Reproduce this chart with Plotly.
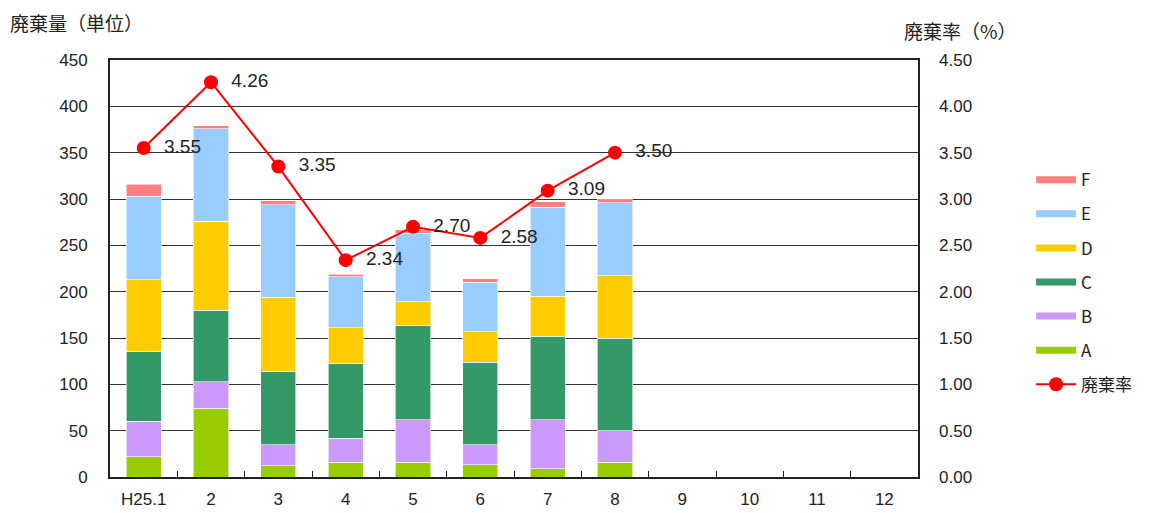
import plotly.graph_objects as go

months = ["H25.1", "2", "3", "4", "5", "6", "7", "8", "9", "10", "11", "12"]
A = [22, 74, 12, 16, 16, 13, 9, 16]
B = [38, 29, 23, 26, 46, 22, 53, 34]
C = [75, 77, 79, 80, 101, 89, 90, 100]
D = [78, 96, 80, 39, 26, 33, 43, 67]
E = [90, 100, 100, 55, 74, 53, 96, 79]
F = [13, 3, 4, 3, 4, 4, 6, 3]
rate = [3.55, 4.26, 3.35, 2.34, 2.70, 2.58, 3.09, 3.50]

series = [("A", A, "#99cc00"), ("B", B, "#cc99ff"), ("C", C, "#339966"),
          ("D", D, "#ffcc00"), ("E", E, "#99ccff"), ("F", F, "#ff8080")]

FONT = "Liberation Sans, Arial, sans-serif"
JP = "Noto Sans CJK JP, sans-serif"

fig = go.Figure()
for name, vals, col in series:
    fig.add_trace(go.Bar(x=months[:len(vals)], y=vals, name=name, marker_color=col,
                         marker_line=dict(color="white", width=0.6), width=0.52,
                         showlegend=False))

fig.add_trace(go.Scatter(x=months[:len(rate)], y=rate, yaxis="y2", mode="lines+markers+text",
                         line=dict(color="#ff0000", width=2), marker=dict(color="#ff0000", size=14),
                         text=["  " + f"{v:.2f}" for v in rate], textposition="middle right",
                         textfont=dict(family=FONT, size=19, color="#222"), showlegend=False))

# legend entries
for i, (name, vals, col) in enumerate(reversed(series)):
    fig.add_trace(go.Scatter(x=[None], y=[None], mode="lines", name=name,
                             line=dict(color=col, width=7), legendgroup=name))
fig.add_trace(go.Scatter(x=[None], y=[None], mode="lines+markers", name="廃棄率",
                         line=dict(color="#ff0000", width=2), marker=dict(color="#ff0000", size=14),
                         legendgroup="rate"))

fig.update_layout(
    barmode="stack", width=1157, height=513,
    margin=dict(l=102, r=247, t=52, b=44, autoexpand=False),
    plot_bgcolor="white", paper_bgcolor="white",
    font=dict(family=FONT, size=17, color="#222"),
    xaxis=dict(type="category", categoryorder="array", categoryarray=months, range=[-0.5, 11.5],
               showline=True, linecolor="#222", linewidth=2, mirror=True,
               ticks="inside", tickson="boundaries", ticklen=6, tickcolor="#222",
               tickfont=dict(size=17, family=FONT), ticklabelstandoff=6, fixedrange=True),
    yaxis=dict(range=[0, 450], dtick=50, showgrid=True, gridcolor="#333", gridwidth=1.2,
               showline=True, linecolor="#222", linewidth=2, mirror=True,
               tickfont=dict(size=17, family=FONT), ticks="", ticklabelstandoff=17),
    yaxis2=dict(range=[0, 4.5], dtick=0.5, tickformat=".2f", overlaying="y", side="right",
                showgrid=False, tickfont=dict(size=17, family=FONT), ticklabelstandoff=20),
    legend=dict(x=1.14, y=0.755, xanchor="left", yanchor="top", tracegroupgap=9,
                font=dict(size=17, family=JP), itemwidth=40, traceorder="grouped"),
    annotations=[
        dict(text="廃棄量（単位）", xref="paper", yref="paper", x=-0.126, y=1.09, xanchor="left",
             yanchor="middle", showarrow=False, font=dict(family=JP, size=19, color="#222")),
        dict(text="廃棄率（%）", xref="paper", yref="paper", x=1.052, y=1.07, xanchor="center",
             yanchor="middle", showarrow=False, font=dict(family=JP, size=19, color="#222")),
    ],
)

fig.write_html("out.html")
